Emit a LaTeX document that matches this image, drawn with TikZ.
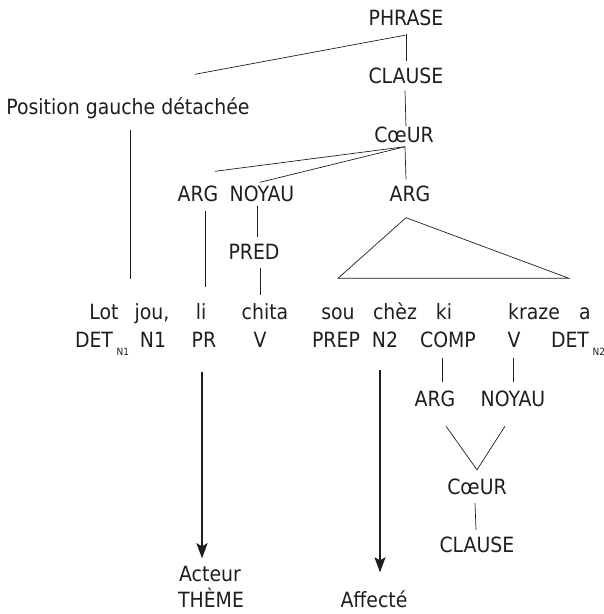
\documentclass[tikz,border=0pt]{standalone}
\usepackage{fontspec}
\setmainfont{DejaVu Sans Condensed}
\usetikzlibrary{arrows.meta}

\definecolor{ink}{HTML}{1E1E1E}
\newcommand{\detof}[1]{DET\,\raisebox{-8pt}{\fontsize{10}{10}\selectfont #1}}

\begin{document}
\begin{tikzpicture}[x=1pt, y=-1pt,
    every node/.style={font=\fontsize{21}{21}\selectfont, text=ink, text height=15pt, text depth=0pt, inner sep=4pt},
    branch/.style={draw=ink, line width=0.7pt},
    role/.style={draw=ink, line width=1.8pt, -{Stealth[length=15pt, width=11pt, inset=3pt]}}]
    \useasboundingbox (0,0) rectangle (604,614);

    % upper tree
    \node (phrase) at (406, 18) {PHRASE};
    \node (clause) at (406, 76) {CLAUSE};
    \node (pos) at (128, 107) {Position gauche détachée};
    \node (coeur) at (404, 135) {CœUR};
    \node (argA) at (198, 194) {ARG};
    \node (noyauA) at (262, 194) {NOYAU};
    \node (argB) at (410, 194) {ARG};
    \node (pred) at (254, 252) {PRED};

    % words
    \node (lot) at (104, 312) {Lot};
    \node (jou) at (152, 312) {jou,};
    \node (li) at (201, 312) {li};
    \node (chita) at (265, 312) {chita};
    \node (sou) at (338, 312) {sou};
    \node (chez) at (395, 312) {chèz};
    \node (ki) at (444, 312) {ki};
    \node (kraze) at (534, 312) {kraze};
    \node (a) at (585, 312) {a};
    % categories
    \node (detA) at (102, 340) {\detof{N1}};
    \node (nA) at (153, 340) {N1};
    \node (pr) at (204, 340) {PR};
    \node (vA) at (260, 340) {V};
    \node (prep) at (336, 340) {PREP};
    \node (nB) at (385, 340) {N2};
    \node (comp) at (448, 340) {COMP};
    \node (vB) at (514, 340) {V};
    \node (detB) at (578, 340) {\detof{N2}};

    % relative clause
    \node (argC) at (435, 399) {ARG};
    \node (noyauB) at (513, 399) {NOYAU};
    \node (coeurB) at (477, 487) {CœUR};
    \node (clauseB) at (477, 545) {CLAUSE};

    % roles
    \node (acteur) at (210, 574) {Acteur};
    \node (theme) at (211, 600) {THÈME};
    \node (affecte) at (374, 600) {Affecté};

    \draw[branch, shorten <=4pt, shorten >=3pt] (phrase.south) -- (clause.north);
    \draw[branch] ([shift={(-1,5.5)}]phrase.south) -- ([shift={(67,-21)}]pos.north);
    \draw[branch] ([shift={(-1,3)}]clause.south) -- ([shift={(2,3)}]coeur.north);
    \draw[branch] ([shift={(2,11)}]pos.south) -- ([shift={(26,-21)}]lot.north);
    \draw[branch] ([xshift=1pt]coeur.south) -- ([shift={(17,-11)}]argA.north);
    \draw[branch] ([xshift=1pt]coeur.south) -- ([shift={(-2,0)}]noyauA.north);
    \draw[branch] ([xshift=1pt]coeur.south) -- ([shift={(-4,-3)}]argB.north);
    \draw[branch] ([shift={(7,5)}]argA.south) -- ([shift={(4,-13)}]li.north);
    \draw[branch] ([xshift=-5pt]noyauA.south) -- ([shift={(3,-3)}]pred.north);
    \draw[branch] ([shift={(6,4)}]pred.south) -- ([shift={(-5,-5)}]chita.north);
    % argument triangle
    \draw[branch] ([shift={(-4,12)}]argB.south) -- ([shift={(0,-22)}]sou.north) -- ([shift={(-16,-22)}]a.north) -- cycle;

    \draw[branch] ([shift={(-6,6)}]comp.south) -- ([shift={(7,-5)}]argC.north);
    \draw[branch] ([shift={(-1,6)}]vB.south) -- ([shift={(0,-5)}]noyauB.north);
    \draw[branch] ([shift={(11,15.5)}]argC.south) -- ([shift={(0,-5.5)}]coeurB.north);
    \draw[branch] ([shift={(-8,15.5)}]noyauB.south) -- ([shift={(0,-5.5)}]coeurB.north);
    \draw[branch] ([shift={(-2,4.5)}]coeurB.south) -- ([shift={(-1,-3.5)}]clauseB.north);

    \draw[role, shorten <=20pt, shorten >=4pt] ([xshift=-2pt]pr.south) -- ([xshift=-8pt]acteur.north);
    \draw[role, shorten <=18pt, shorten >=16pt] ([xshift=-5pt]nB.south) -- ([xshift=6pt]affecte.north);
\end{tikzpicture}
\end{document}
